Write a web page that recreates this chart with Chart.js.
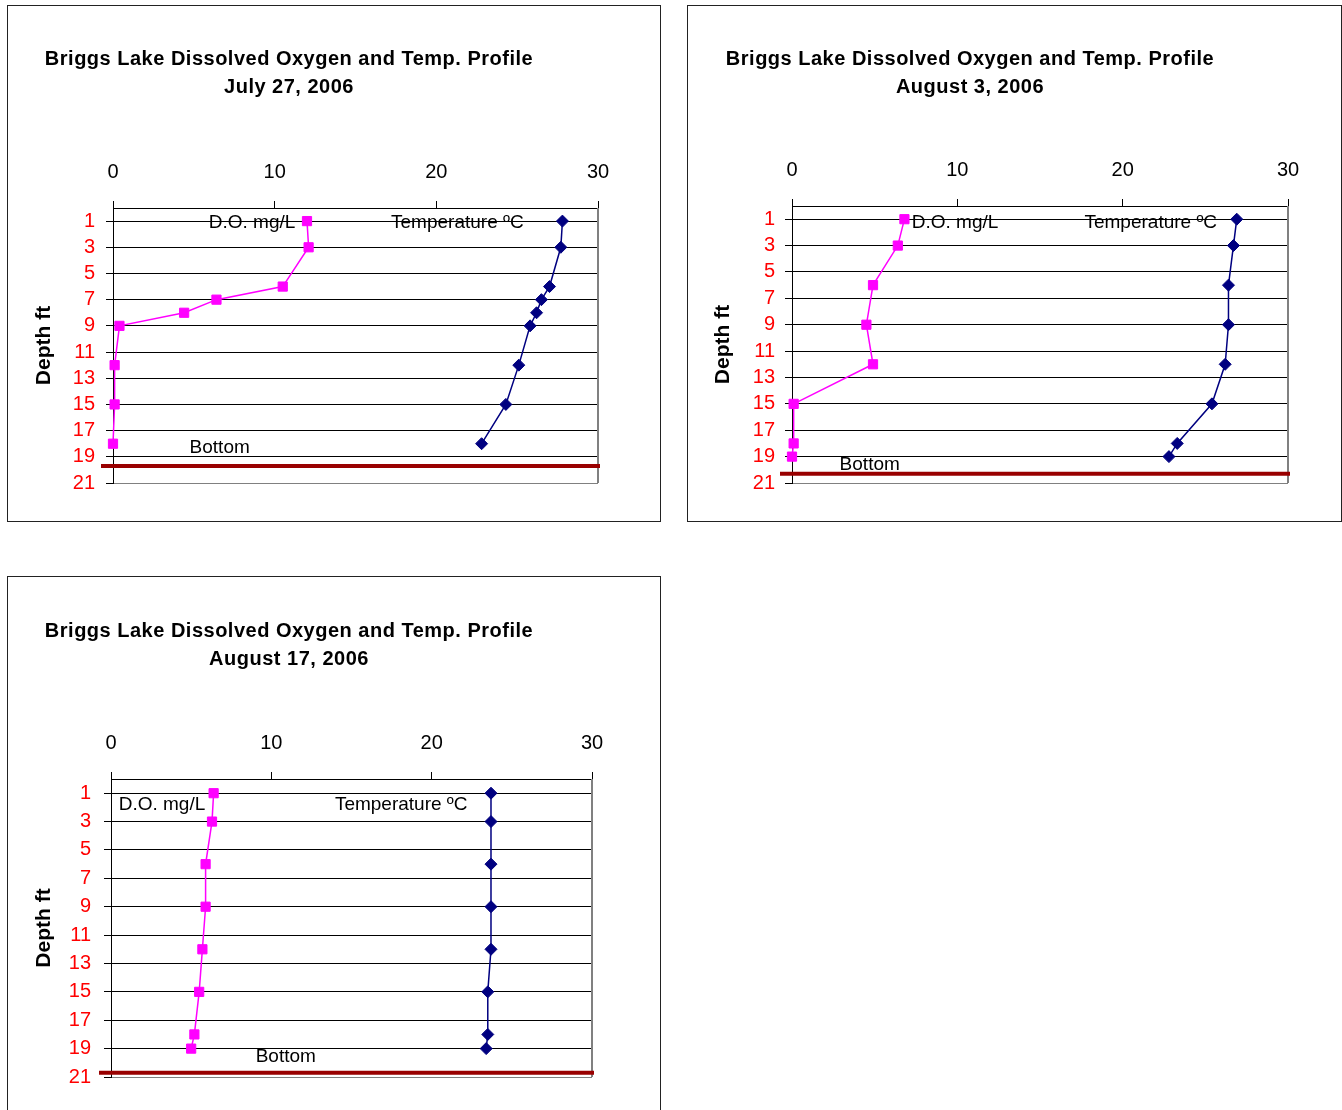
<!DOCTYPE html>
<html>
<head>
<meta charset="utf-8">
<script src="https://cdn.jsdelivr.net/npm/chart.js@4/dist/chart.umd.min.js"></script>
<style>
  html, body { margin: 0; padding: 0; background: #fff; }
  body { width: 1342px; height: 1110px; position: relative; overflow: hidden; }
  .panel { position: absolute; border: 1px solid #222; box-sizing: border-box; background: #fff; overflow: hidden; }
  .panel canvas { position: absolute; left: 0; top: 0; }
</style>
</head>
<body>
<div class="panel" style="left:7px;top:5px;width:654px;height:517px;">
  <canvas id="c1" width="652" height="515" style="width:652px;height:515px;"></canvas>
</div>
<div class="panel" style="left:687px;top:5px;width:655px;height:517px;">
  <canvas id="c2" width="653" height="515" style="width:653px;height:515px;"></canvas>
</div>
<div class="panel" style="left:7px;top:576px;width:654px;height:542px;">
  <canvas id="c3" width="652" height="540" style="width:652px;height:540px;"></canvas>
</div>

<script>
// ---- Shared axis ticks ----
const valueTicks = [0, 10, 20, 30];
const depthTicks = [1, 3, 5, 7, 9, 11, 13, 15, 17, 19, 21];

// ---- July 27, 2006 ----
const depthsJul27 = [1, 3, 6, 7, 8, 9, 12, 15, 18];
const doJul27     = [12.0, 12.1, 10.5, 6.4, 4.4, 0.4, 0.1, 0.1, 0.0];
const tempJul27   = [27.8, 27.7, 27.0, 26.5, 26.2, 25.8, 25.1, 24.3, 22.8];
const bottomJul27 = 19.7;

// ---- August 3, 2006 ----
const depthsAug03 = [1, 3, 6, 9, 12, 15, 18, 19];
const doAug03     = [6.8, 6.4, 4.9, 4.5, 4.9, 0.1, 0.1, 0.0];
const tempAug03   = [26.9, 26.7, 26.4, 26.4, 26.2, 25.4, 23.3, 22.8];
const bottomAug03 = 20.3;

// ---- August 17, 2006 ----
const depthsAug17 = [1, 3, 6, 9, 12, 15, 18, 19];
const doAug17     = [6.4, 6.3, 5.9, 5.9, 5.7, 5.5, 5.2, 5.0];
const tempAug17   = [23.7, 23.7, 23.7, 23.7, 23.7, 23.5, 23.5, 23.4];
const bottomAug17 = 20.7;

const titleLine = 'Briggs Lake Dissolved Oxygen and Temp. Profile';
const FONT = '"Liberation Sans", Arial, Helvetica, sans-serif';
Chart.defaults.font.family = FONT;

// Draws the chart heading, the series captions, the lake-bottom line and the plot frame
const profileOverlay = {
  id: 'profileOverlay',
  beforeDatasetsDraw(chart) {
    const { ctx, chartArea: a } = chart;
    ctx.save();
    ctx.strokeStyle = '#808080';
    ctx.lineWidth = 2;
    ctx.beginPath();
    ctx.moveTo(a.right, a.top);
    ctx.lineTo(a.right, a.bottom);
    ctx.stroke();
    ctx.restore();
  },
  afterDatasetsDraw(chart, args, opts) {
    const { ctx, chartArea: a, scales: { x, y } } = chart;
    ctx.save();
    // lake bottom
    const by = y.getPixelForValue(opts.bottom);
    ctx.strokeStyle = '#990000';
    ctx.lineWidth = 4;
    ctx.beginPath();
    ctx.moveTo(a.left - 12, by);
    ctx.lineTo(a.right + 2, by);
    ctx.stroke();
    // captions placed in data units
    ctx.fillStyle = '#000';
    ctx.font = '19px ' + FONT;
    ctx.textAlign = 'center';
    ctx.textBaseline = 'middle';
    opts.labels.forEach(l => ctx.fillText(l.text, x.getPixelForValue(l.x), y.getPixelForValue(l.y)));
    // heading
    ctx.font = 'bold 20px ' + FONT;
    if ('letterSpacing' in ctx) ctx.letterSpacing = '0.5px';
    opts.heading.forEach((t, i) => ctx.fillText(t, opts.headingX, opts.headingY[i]));
    ctx.restore();
  }
};

function toPoints(xs, ys) { return xs.map((v, i) => ({ x: v, y: ys[i] })); }

function drawProfile(id, cfg) {
  return new Chart(document.getElementById(id), {
    type: 'scatter',
    data: {
      datasets: [
        {
          label: 'D.O. mg/L',
          data: toPoints(cfg.dox, cfg.depths),
          showLine: true,
          clip: false,
          borderColor: '#FF00FF',
          backgroundColor: '#FF00FF',
          borderWidth: 1.5,
          pointStyle: 'rect',
          pointRadius: 6.5,
          pointBorderWidth: 1
        },
        {
          label: 'Temperature ºC',
          data: toPoints(cfg.temp, cfg.depths),
          showLine: true,
          clip: false,
          borderColor: '#000080',
          backgroundColor: '#000080',
          borderWidth: 1.5,
          pointStyle: 'rectRot',
          pointRadius: 6,
          pointBorderWidth: 1
        }
      ]
    },
    options: {
      responsive: false,
      animation: false,
      events: [],
      layout: { padding: cfg.padding },
      plugins: {
        legend: { display: false },
        tooltip: { enabled: false },
        title: { display: false },
        profileOverlay: {
          bottom: cfg.bottom,
          labels: cfg.labels,
          heading: [titleLine, cfg.date],
          headingX: cfg.headingX,
          headingY: cfg.headingY
        }
      },
      scales: {
        x: {
          type: 'linear',
          position: 'top',
          min: 0,
          max: 30,
          afterBuildTicks: s => { s.ticks = valueTicks.map(v => ({ value: v })); },
          afterFit: s => { s.height = 60; },
          grid: { drawOnChartArea: false, tickLength: 7, color: '#000', lineWidth: 1 },
          border: { display: true, color: '#000', width: 1 },
          ticks: { color: '#000', padding: 17, maxRotation: 0, font: { size: 20 } }
        },
        y: {
          type: 'linear',
          reverse: true,
          min: 0,
          max: 21,
          afterBuildTicks: s => { s.ticks = depthTicks.map(v => ({ value: v })); },
          afterFit: s => { s.width = cfg.yWidth; },
          grid: {
            color: c => (c.tick && c.tick.value === 21 ? '#808080' : '#000'),
            lineWidth: 1,
            tickLength: 7,
            tickColor: '#000'
          },
          border: { display: true, color: '#000', width: 1 },
          ticks: { color: '#FF0000', padding: cfg.tickPad, autoSkip: false, font: { size: 20 } },
          title: {
            display: true,
            text: 'Depth ft',
            color: '#000',
            font: { size: 21, weight: 'bold' },
            padding: { top: cfg.titlePad, bottom: 0 }
          }
        }
      }
    },
    plugins: [profileOverlay]
  });
}

drawProfile('c1', {
  depths: depthsJul27, dox: doJul27, temp: tempJul27, bottom: bottomJul27,
  date: 'July 27, 2006',
  padding: { left: 0, top: 142, right: 62, bottom: 38 },
  yWidth: 105, tickPad: 11, titlePad: 24,
  headingX: 281, headingY: [53, 81],
  labels: [
    { text: 'D.O. mg/L', x: 8.6, y: 1.15 },
    { text: 'Temperature ºC', x: 21.3, y: 1.15 },
    { text: 'Bottom', x: 6.6, y: 18.3 }
  ]
});

drawProfile('c2', {
  depths: depthsAug03, dox: doAug03, temp: tempAug03, bottom: bottomAug03,
  date: 'August 3, 2006',
  padding: { left: 0, top: 140, right: 53, bottom: 38 },
  yWidth: 104, tickPad: 10, titlePad: 23,
  headingX: 282, headingY: [53, 81],
  labels: [
    { text: 'D.O. mg/L', x: 9.86, y: 1.28 },
    { text: 'Temperature ºC', x: 21.7, y: 1.28 },
    { text: 'Bottom', x: 4.7, y: 19.6 }
  ]
});

drawProfile('c3', {
  depths: depthsAug17, dox: doAug17, temp: tempAug17, bottom: bottomAug17,
  date: 'August 17, 2006',
  padding: { left: 0, top: 142, right: 68, bottom: 40 },
  yWidth: 103, tickPad: 13, titlePad: 24,
  headingX: 281, headingY: [54, 82],
  labels: [
    { text: 'D.O. mg/L', x: 3.18, y: 1.85 },
    { text: 'Temperature ºC', x: 18.1, y: 1.85 },
    { text: 'Bottom', x: 10.9, y: 19.6 }
  ]
});
</script>
</body>
</html>
